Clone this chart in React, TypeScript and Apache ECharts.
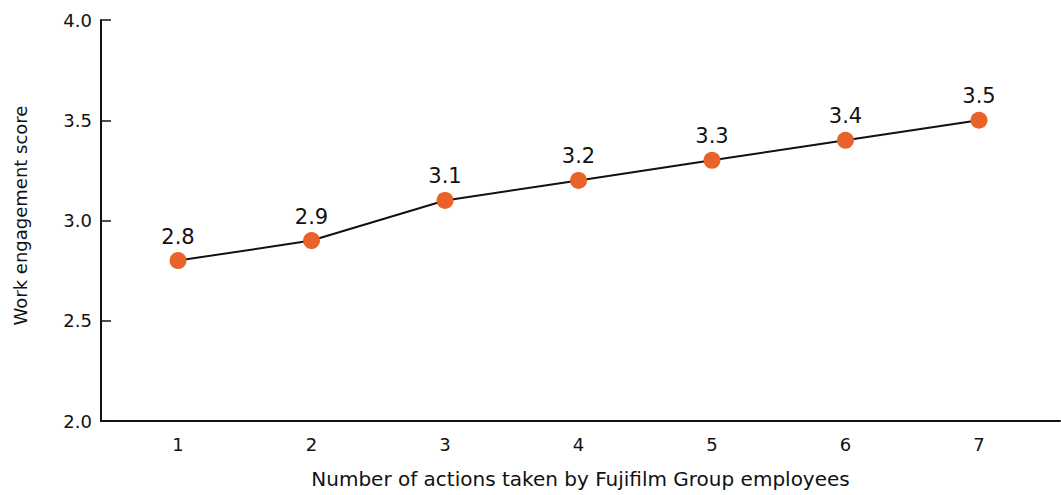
import React, { useEffect, useRef } from "react";
import * as echarts from "echarts";

const actions = [1, 2, 3, 4, 5, 6, 7];
const scores = [2.8, 2.9, 3.1, 3.2, 3.3, 3.4, 3.5];
const yTicks = [2.0, 2.5, 3.0, 3.5, 4.0];

const xTitle = "Number of actions taken by Fujifilm Group employees";
const yTitle = "Work engagement score";

export default function App() {
  const ref = useRef<HTMLDivElement>(null);
  useEffect(() => {
    if (!ref.current) return;
    const chart = echarts.init(ref.current, null, { renderer: "svg" });
    chart.setOption({
      animation: false,
      backgroundColor: "#ffffff",
      grid: { left: 101, right: 1, top: 20, bottom: 74, containLabel: false },
      xAxis: {
        type: "value",
        min: 0.423,
        max: 7.607,
        name: xTitle,
        nameLocation: "middle",
        nameGap: 48,
        nameTextStyle: { fontFamily: "DejaVu Sans", fontSize: 20, color: "#111" },
        axisLine: { show: true, lineStyle: { color: "#111", width: 2 } },
        axisTick: { show: false },
        splitLine: { show: false },
        axisLabel: {
          customValues: actions,
          fontFamily: "DejaVu Sans",
          fontSize: 18,
          color: "#111",
          margin: 14,
        },
      },
      yAxis: {
        type: "value",
        min: 2,
        max: 4,
        interval: 0.5,
        name: yTitle,
        nameLocation: "middle",
        nameGap: 72,
        nameTextStyle: { fontFamily: "DejaVu Sans", fontSize: 18, color: "#111", padding: [0, 0, 0, 10] },
        axisLine: { show: true, lineStyle: { color: "#111", width: 2 } },
        axisTick: { show: true, inside: true, length: 10, lineStyle: { color: "#111", width: 1.5 }, customValues: yTicks },
        splitLine: { show: false },
        axisLabel: {
          fontFamily: "DejaVu Sans",
          fontSize: 18,
          color: "#111",
          margin: 9,
          formatter: (v: number) => v.toFixed(1),
        },
      },
      series: [
        {
          type: "line",
          data: actions.map((a, i) => [a, scores[i]]),
          symbol: "circle",
          symbolSize: 17,
          itemStyle: { color: "#E8622A" },
          lineStyle: { color: "#111", width: 2 },
          label: {
            show: true,
            position: "top",
            distance: 5,
            fontFamily: "DejaVu Sans",
            fontSize: 21,
            color: "#111",
            formatter: (p: any) => p.value[1].toFixed(1),
          },
          z: 3,
        },
      ],
    });
    return () => chart.dispose();
  }, []);
  return (
    <div
      ref={ref}
      style={{ position: "fixed", left: 0, top: 0, width: 1061, height: 495 }}
    />
  );
}
